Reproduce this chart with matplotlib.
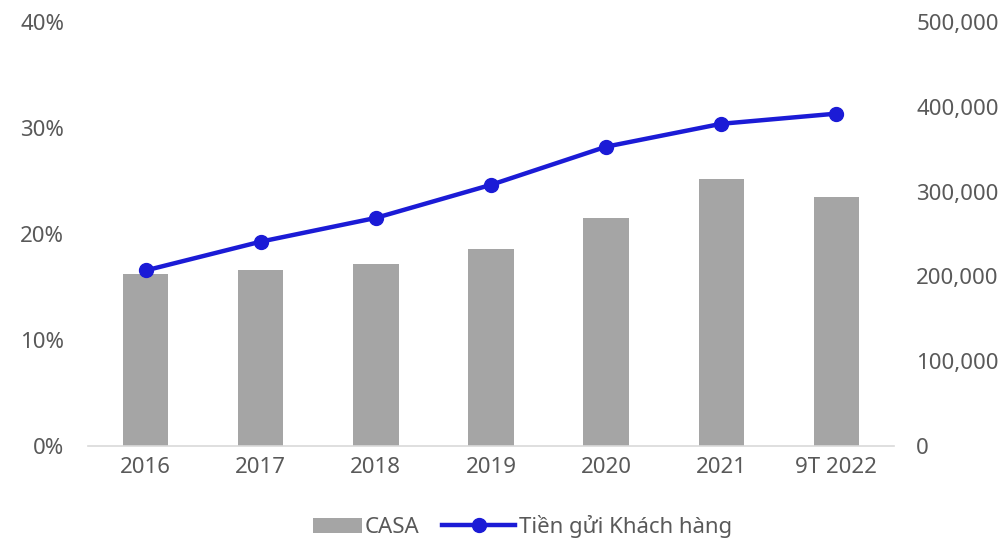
import matplotlib
matplotlib.use("Agg")
import matplotlib.pyplot as plt
from matplotlib.ticker import FuncFormatter
from matplotlib.legend_handler import HandlerPatch
import matplotlib.patches as mpatches

categories = ["2016", "2017", "2018", "2019", "2020", "2021", "9T 2022"]
casa = [16.2, 16.6, 17.2, 18.6, 21.5, 25.2, 23.5]
deposits = [207000, 241000, 269000, 308000, 353000, 380000, 392000]

plt.rcParams['font.family'] = ['Noto Sans', 'DejaVu Sans']
txt = '#595959'

fig = plt.figure(figsize=(10.04, 5.43), dpi=100)
ax = fig.add_axes([0.0876, 0.1786, 0.8028, 0.7808])
ax2 = ax.twinx()

x = list(range(len(categories)))
bars = ax.bar(x, casa, width=0.395, color='#A5A5A5', label='CASA', zorder=2)
line, = ax2.plot(x, deposits, color='#1B1BD6', lw=3.2, marker='o', markersize=10,
                 label='Tiền gửi Khách hàng', zorder=3)

ax.set_xlim(-0.5, len(categories) - 0.5)
ax.set_ylim(0, 40)
ax.set_yticks([0, 10, 20, 30, 40])
ax.yaxis.set_major_formatter(FuncFormatter(lambda v, p: f"{int(v)}%"))
ax2.set_ylim(0, 500000)
ax2.set_yticks([0, 100000, 200000, 300000, 400000, 500000])
ax2.yaxis.set_major_formatter(FuncFormatter(lambda v, p: f"{int(v):,}"))
ax.set_xticks(x)
ax.set_xticklabels(categories)

for a in (ax, ax2):
    for s in a.spines.values():
        s.set_visible(False)
    a.tick_params(length=0, labelsize=16, colors=txt)
ax.spines['bottom'].set_visible(True)
ax.spines['bottom'].set_color('#D9D9D9')
ax.spines['bottom'].set_linewidth(1.2)
ax.tick_params(axis='y', pad=17)
ax2.tick_params(axis='y', pad=16)
ax.tick_params(axis='x', pad=8)

ax.set_zorder(ax2.get_zorder() - 1)
ax2.patch.set_visible(False)


def short_rect(legend, orig_handle, xdescent, ydescent, width, height, fontsize):
    w = width * 0.67
    return mpatches.Rectangle((width - w - xdescent, -ydescent + height * 0.02),
                              w, height * 0.95)


fig.legend([bars.patches[0], line], ['CASA', 'Tiền gửi Khách hàng'], loc='center',
           bbox_to_anchor=(0.508, 0.03), ncol=2, frameon=False, fontsize=16,
           labelcolor=txt, handlelength=3.3, columnspacing=1.0, handletextpad=0.15,
           handler_map={mpatches.Rectangle: HandlerPatch(patch_func=short_rect)})

fig.savefig("out.png", dpi=100)
